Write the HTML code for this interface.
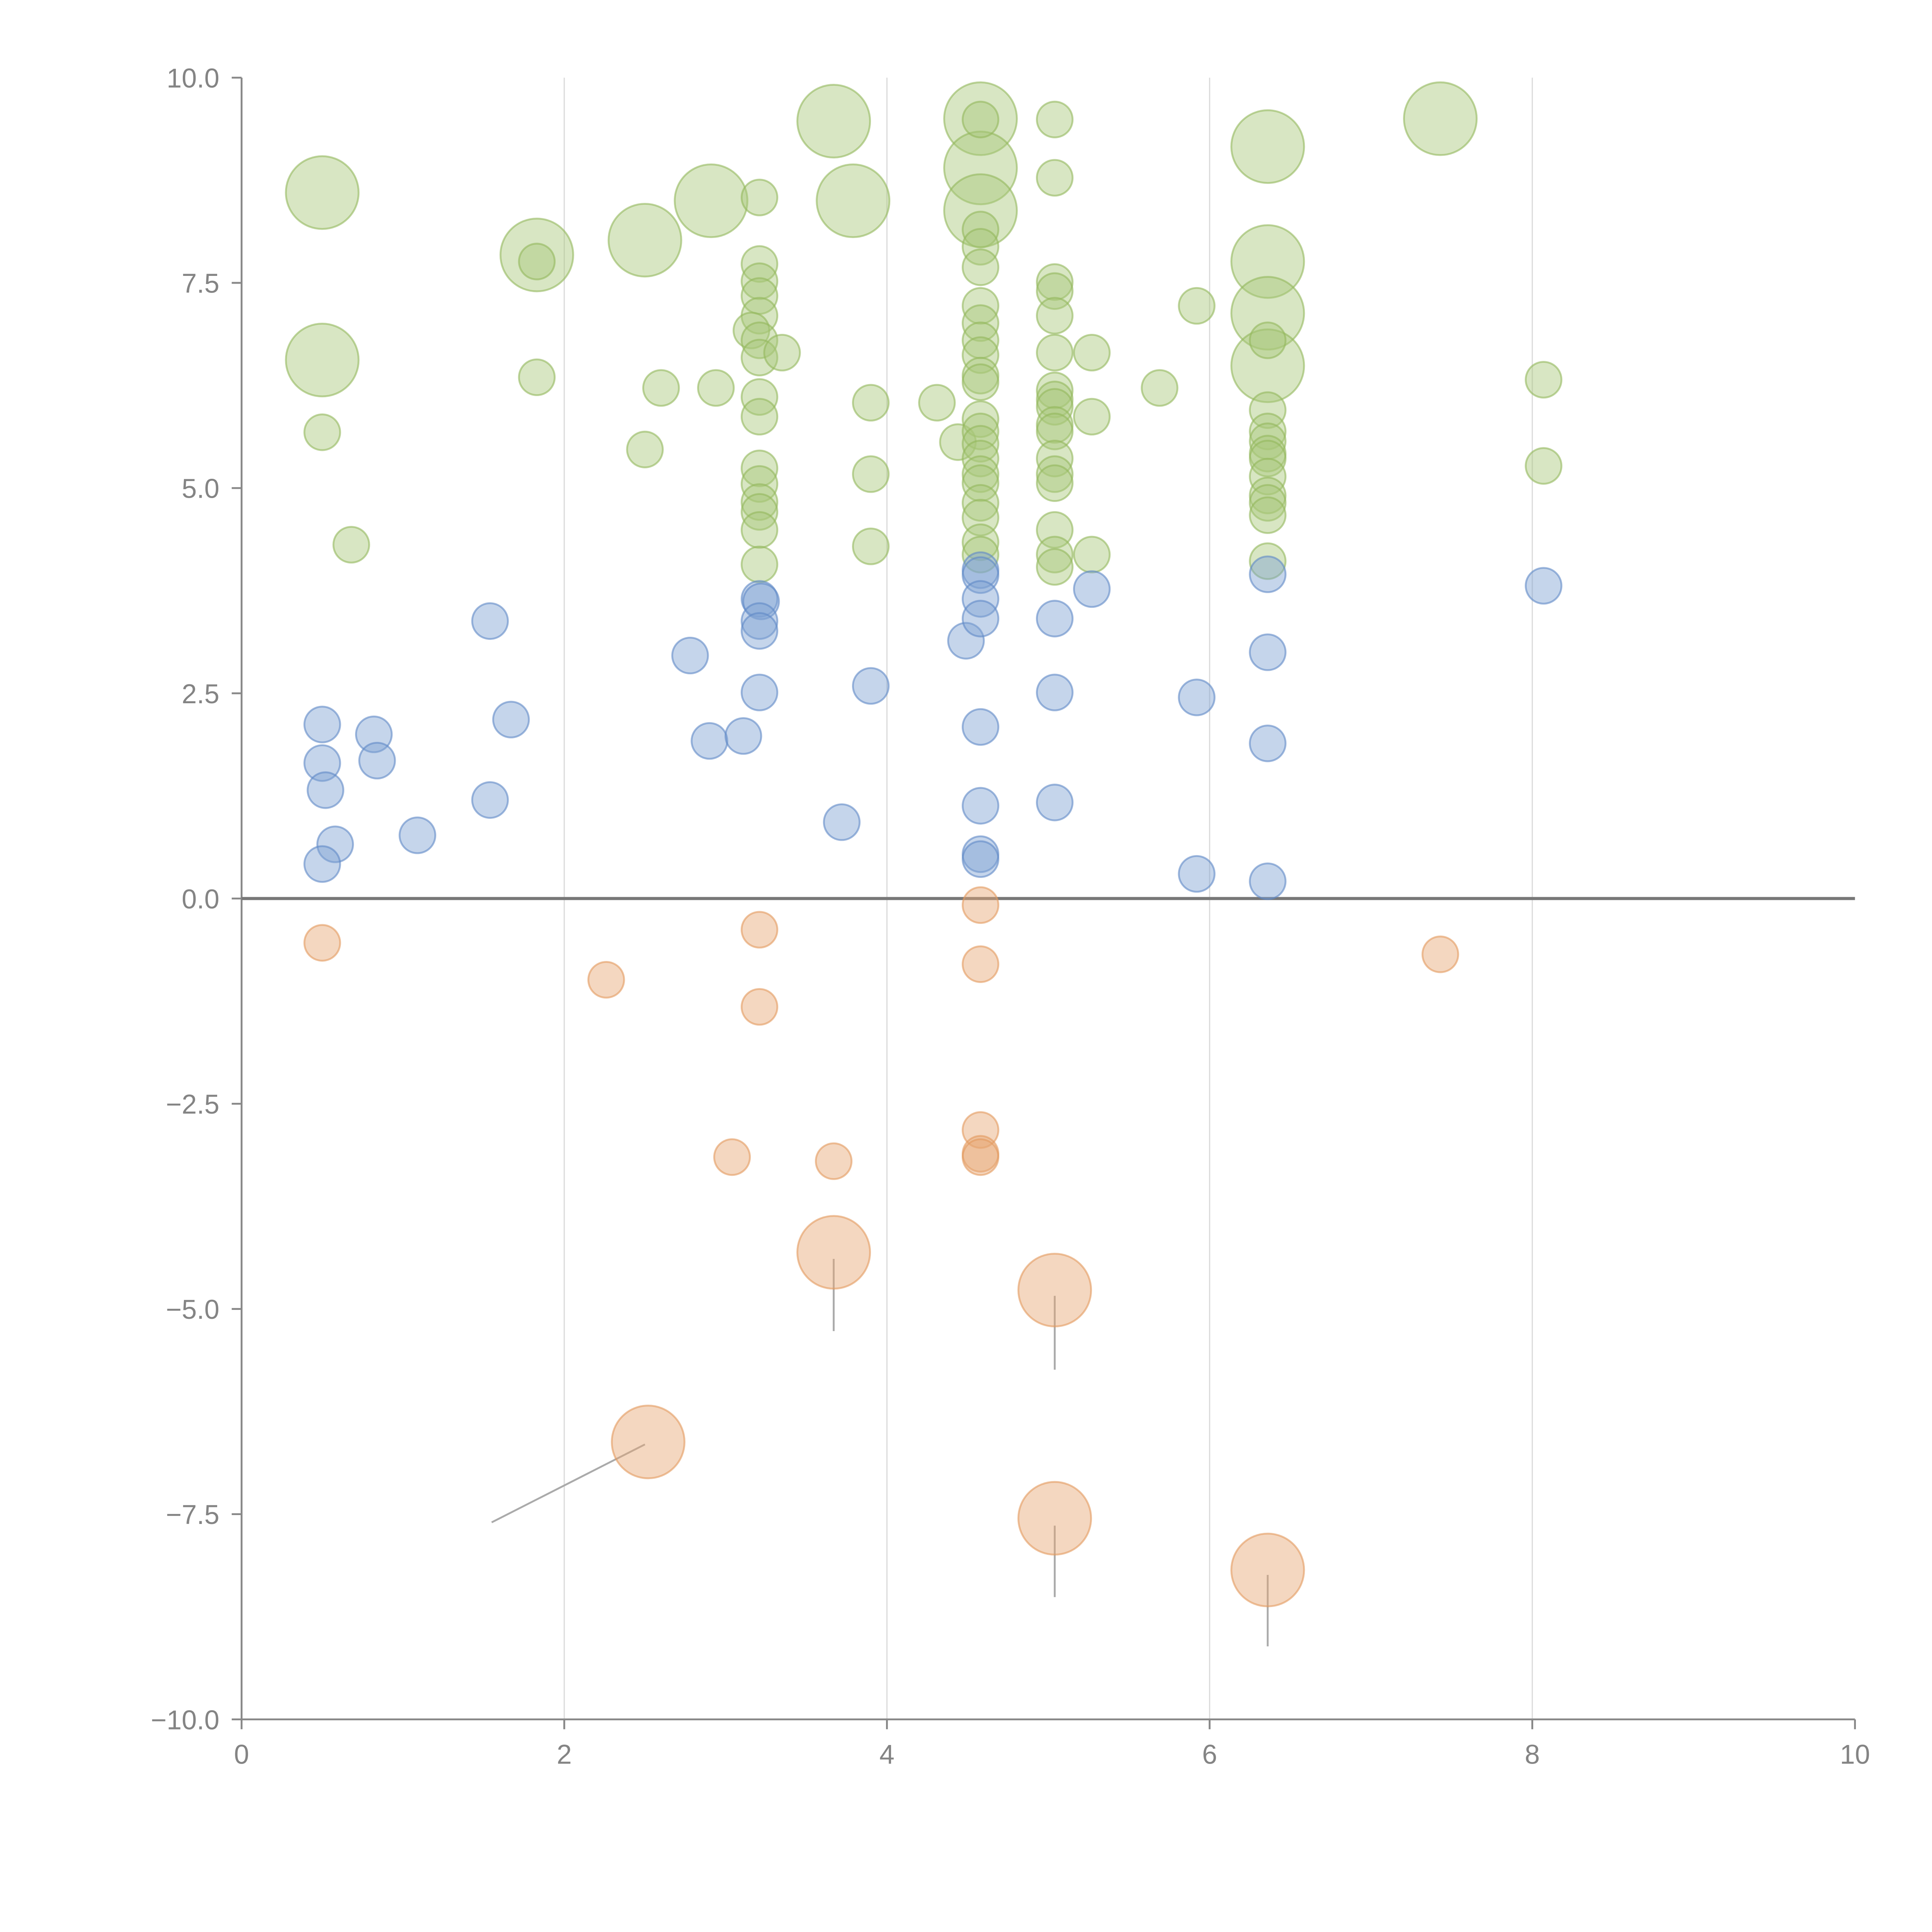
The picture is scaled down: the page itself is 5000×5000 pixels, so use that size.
<!DOCTYPE html>
<html><head><meta charset="utf-8"><style>html,body{margin:0;padding:0;background:#fff}svg{display:block}</style></head>
<body>
<svg id="chart" width="5000" height="5000" viewBox="0 0 1567.5 1567.5" xmlns="http://www.w3.org/2000/svg" font-family="'Liberation Sans', sans-serif">
<g id="grid"></g>
<g id="axes"></g>
<g id="leaders"></g>
<g id="marks"></g>
</svg>
<script>
const xTicks=[0,2,4,6,8,10];
const yTicks=[10,7.5,5,2.5,0,-2.5,-5,-7.5,-10];
const yTickLabels=["10.0","7.5","5.0","2.5","0.0","\u22122.5","\u22125.0","\u22127.5","\u221210.0"];
// green series (size 1 small, 2 large)
const greenX=[0.50,0.50,1.83,2.50,2.91,3.67,3.79,4.58,4.58,4.58,6.36,6.36,6.36,6.36,7.43,
0.50,0.68,1.83,1.83,2.50,2.60,2.94,
3.21,3.21,3.21,3.21,3.21,3.16,3.21,3.21,3.35,3.21,3.21,3.21,3.21,3.21,3.21,3.21,3.21,
3.90,3.90,3.90,4.31,4.44,
4.58,4.58,4.58,4.58,4.58,4.58,4.58,4.58,4.58,4.58,4.58,4.58,4.58,4.58,4.58,4.58,4.58,4.58,4.58,4.58,
5.04,5.04,5.04,5.04,5.04,5.04,5.04,5.04,5.04,5.04,5.04,5.04,5.04,5.04,5.04,5.04,5.04,
5.27,5.27,5.27,5.69,5.92,
6.36,6.36,6.36,6.36,6.36,6.36,6.36,6.36,6.36,6.36,6.36,8.07,8.07];
const greenY=[8.60,6.56,7.84,8.02,8.50,9.47,8.50,9.50,8.90,8.38,9.16,7.76,7.13,6.49,9.50,
5.68,4.31,6.35,7.76,5.47,6.22,6.22,
8.54,7.73,7.52,7.34,7.10,6.92,6.80,6.59,6.65,6.11,5.87,5.24,5.05,4.83,4.71,4.49,4.07,
6.04,5.17,4.29,6.04,5.56,
9.49,8.15,7.94,7.69,7.22,7.01,6.80,6.62,6.37,6.29,5.84,5.69,5.54,5.36,5.17,5.06,4.82,4.64,4.34,4.19,
9.49,8.78,7.51,7.40,7.10,6.65,6.19,6.08,5.99,5.77,5.69,5.36,5.17,5.06,4.49,4.19,4.04,
6.65,5.87,4.19,6.22,7.22,
5.95,5.69,5.57,5.42,5.36,5.14,4.91,4.82,4.67,4.11,6.80,6.32,5.27];
const greenS=[2,2,2,2,2,2,2,2,2,2,2,2,2,2,2,
1,1,1,1,1,1,1,
1,1,1,1,1,1,1,1,1,1,1,1,1,1,1,1,1,
1,1,1,1,1,
1,1,1,1,1,1,1,1,1,1,1,1,1,1,1,1,1,1,1,1,
1,1,1,1,1,1,1,1,1,1,1,1,1,1,1,1,1,
1,1,1,1,1,
1,1,1,1,1,1,1,1,1,1,1,1,1];
const blueX=[0.50,0.50,0.52,0.58,0.50,0.82,0.84,1.09,1.54,1.54,1.67,2.78,2.90,3.11,3.21,3.22,3.21,3.21,3.21,3.72,3.90,4.49,4.58,4.58,4.58,4.58,4.58,4.58,4.58,4.58,5.04,5.04,5.04,5.27,5.92,5.92,6.36,6.36,6.36,6.36,8.07];
const blueY=[2.12,1.65,1.32,0.66,0.42,2.00,1.68,0.77,3.38,1.20,2.18,2.96,1.92,1.98,3.65,3.62,3.38,3.26,2.51,0.93,2.59,3.14,4.00,3.94,3.65,3.41,2.09,1.13,0.54,0.48,3.41,2.51,1.17,3.77,2.45,0.30,3.95,3.00,1.89,0.21,3.81];
const orangeX=[0.50,2.26,3.21,3.21,3.04,3.67,4.58,4.58,4.58,4.58,4.58,7.43,3.67,5.04,2.52,5.04,6.36];
const orangeY=[-0.54,-0.99,-0.38,-1.32,-3.15,-3.20,-0.08,-0.80,-2.82,-3.11,-3.15,-0.68,-4.31,-4.77,-6.62,-7.55,-8.18];
const orangeS=[1,1,1,1,1,1,1,1,1,1,1,1,2,2,2,2,2];
// leader line endpoints for labelled large orange bubbles
const leaderFromX=[3.67,5.04,2.50,5.04,6.36];
const leaderFromY=[-4.39,-4.84,-6.65,-7.64,-8.24];
const leaderToX=[3.67,5.04,1.55,5.04,6.36];
const leaderToY=[-5.27,-5.74,-7.60,-8.51,-9.11];

const X0=196,X1=1505,Y0=1395,Y1=63;
const sx=v=>X0+(v-0)/(10-0)*(X1-X0);
const sy=v=>Y0-(v+10)/20*(Y0-Y1);
const sr=s=>s===2?29.5:14.5;
const NS="http://www.w3.org/2000/svg";
function mk(tag,attrs,parent){const e=document.createElementNS(NS,tag);for(const k in attrs)e.setAttribute(k,attrs[k]);parent.appendChild(e);return e;}
const grid=document.getElementById('grid'),axes=document.getElementById('axes'),marks=document.getElementById('marks'),leaders=document.getElementById('leaders');
xTicks.forEach(t=>{if(t>0&&t<10){const l=mk('line',{x1:sx(t),x2:sx(t),y1:Y1,y2:Y0,stroke:'#dcdcdc','stroke-width':1},grid);

}});
let a=mk('line',{x1:X0,x2:X0,y1:Y1,y2:Y0,stroke:'#888','stroke-width':1.5},axes);


a=mk('line',{x1:X0,x2:X1,y1:Y0,y2:Y0,stroke:'#888','stroke-width':1.5},axes);


a=mk('line',{x1:X0,x2:X1,y1:sy(0),y2:sy(0),stroke:'#777','stroke-width':2.5},axes);


xTicks.forEach(t=>{mk('line',{x1:sx(t),x2:sx(t),y1:Y0,y2:Y0+8,stroke:'#888','stroke-width':1.5},axes);
const tx=mk('text',{x:sx(t),y:Y0+36,'text-anchor':'middle','font-size':22,fill:'#848484'},axes);tx.textContent=t;

});
yTicks.forEach((t,i)=>{mk('line',{x1:X0-8,x2:X0,y1:sy(t),y2:sy(t),stroke:'#888','stroke-width':1.5},axes);
const tx=mk('text',{x:X0-18,y:sy(t)+8,'text-anchor':'end','font-size':22,fill:'#848484'},axes);tx.textContent=yTickLabels[i];

});
leaderFromX.forEach((v,i)=>{const l=mk('line',{x1:sx(v),y1:sy(leaderFromY[i]),x2:sx(leaderToX[i]),y2:sy(leaderToY[i]),stroke:'#aaa','stroke-width':1.5},leaders);

});
function series(xs,ys,ss,fill,stroke,name){xs.forEach((v,i)=>{const c=mk('circle',{cx:sx(v),cy:sy(ys[i]),r:sr(ss?ss[i]:1),fill:fill,'fill-opacity':0.45,stroke:stroke,'stroke-opacity':0.6,'stroke-width':1.5},marks);

});}
series(greenX,greenY,greenS,'#a8c87a','#93b85c','green-bubble');
series(blueX,blueY,null,'#7fa2d2','#5f89c6','blue-bubble');
series(orangeX,orangeY,orangeS,'#e7a673','#e39a5e','orange-bubble');
</script>
</body></html>
